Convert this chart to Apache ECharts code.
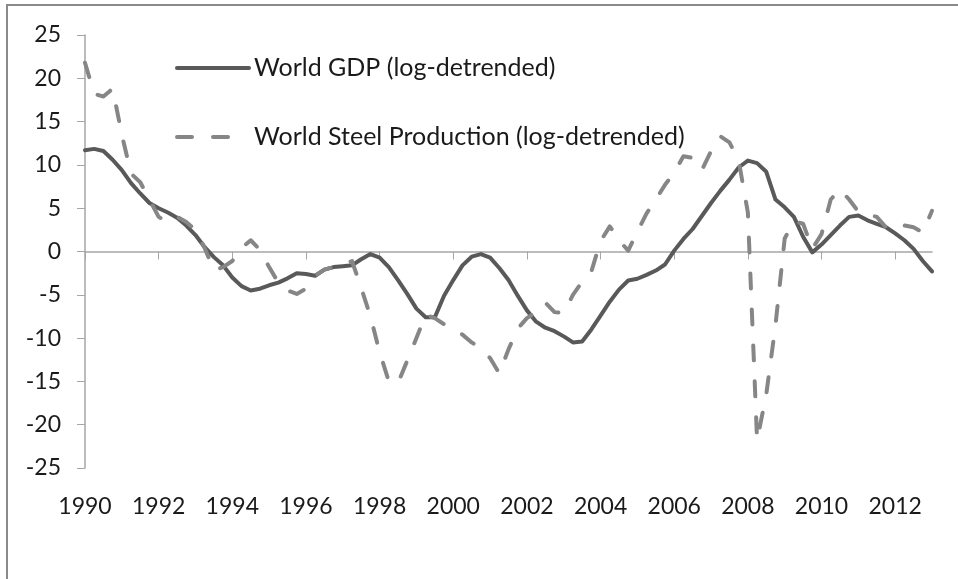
<!DOCTYPE html>
<html>
<head>
<meta charset="utf-8">
<script src="https://cdn.jsdelivr.net/npm/echarts@6/dist/echarts.min.js"></script>
<style>
html,body{margin:0;padding:0;background:#fff;}
#chart{width:958px;height:579px;}
</style>
</head>
<body>
<div id="chart"></div>
<script>
// Years shown on the axis (quarterly data, 1990Q1 .. 2013Q1)
var years = ['1990','1991','1992','1993','1994','1995','1996','1997','1998','1999','2000','2001','2002','2003','2004','2005','2006','2007','2008','2009','2010','2011','2012','2013'];
var quarters = ['Q1','Q2','Q3','Q4'];

// World GDP (log-detrended), quarterly
var gdp = [
 11.7, 11.85, 11.6, 10.6, 9.4, 7.9, 6.7, 5.6,
 5.0, 4.5, 3.9, 3.0, 1.9, 0.5, -0.65, -1.6,
 -3.0, -4.0, -4.5, -4.3, -3.9, -3.6, -3.1, -2.5,
 -2.6, -2.8, -2.1, -1.8, -1.7, -1.6, -0.9, -0.3,
 -0.7, -1.8, -3.3, -4.9, -6.6, -7.6, -7.6, -5.1,
 -3.3, -1.6, -0.6, -0.3, -0.7, -1.9, -3.3, -5.1,
 -6.8, -8.1, -8.8, -9.2, -9.8, -10.5, -10.4, -9.0,
 -7.4, -5.8, -4.4, -3.35, -3.15, -2.7, -2.2, -1.5,
 0.1, 1.45, 2.6, 4.1, 5.6, 7.0, 8.3, 9.7,
 10.5, 10.2, 9.2, 6.0, 5.1, 4.0, 1.7, -0.1,
 0.8, 1.9, 3.0, 4.0, 4.15, 3.6, 3.2, 2.8,
 2.1, 1.3, 0.3, -1.1, -2.3
];

// World Steel Production (log-detrended), quarterly
var steel = [
 21.8, 18.2, 17.9, 18.8, 13.5, 9.0, 8.0, 6.0,
 4.0, 3.4, 4.0, 3.4, 2.5, 0.4, -2.2, -1.8,
 -1.1, 0.4, 1.3, 0.2, -1.8, -3.6, -4.5, -4.9,
 -4.3, -2.8, -2.1, -1.8, -1.5, -1.1, -4.2, -7.5,
 -11.6, -15.0, -15.2, -12.6, -10.0, -7.3, -7.7, -8.4,
 -9.0, -9.6, -10.5, -11.2, -12.3, -14.1, -11.3, -8.9,
 -7.7, -7.0, -5.9, -7.0, -7.1, -5.0, -3.5, -2.3,
 1.2, 2.9, 1.3, 0.1, 2.3, 4.4, 6.0, 7.7,
 9.1, 11.0, 10.8, 9.4, 11.6, 13.3, 12.6, 10.5,
 4.5, -21.8, -16.5, -8.5, 1.5, 3.5, 3.2, 0.3,
 2.0, 6.0, 7.2, 6.0, 4.6, 4.3, 4.0, 2.8,
 2.5, 3.0, 2.8, 2.2, 4.7
];

var seriesNames = ['World GDP (log-detrended)', 'World Steel Production (log-detrended)'];

var categories = [];
for (var y = 0; y < years.length; y++) {
  for (var q = 0; q < 4; q++) {
    if (categories.length < gdp.length) categories.push(years[y] + quarters[q]);
  }
}

var axisGray = '#a6a6a6';
var textColor = '#1a1a1a';
var font = 'Lato';

var chart = echarts.init(document.getElementById('chart'), null, {renderer: 'canvas'});
chart.setOption({
  animation: false,
  backgroundColor: '#ffffff',
  graphic: [{
    type: 'rect',
    shape: {x: 7, y: 5, width: 1200, height: 1200},
    style: {fill: 'none', stroke: '#8a8a8a', lineWidth: 2},
    silent: true,
    z: -10
  }],
  grid: {left: 85, right: 26, top: 35, bottom: 111, containLabel: false},
  legend: {
    orient: 'vertical',
    left: 175,
    top: 53,
    padding: 0,
    itemWidth: 72,
    itemHeight: 14,
    itemGap: 39,
    lineStyle: {width: 4},
    itemStyle: {opacity: 0},
    textStyle: {fontFamily: font, fontSize: 25, color: textColor, lineHeight: 30},
    data: seriesNames
  },
  xAxis: [{
    type: 'category',
    data: categories,
    boundaryGap: false,
    axisLine: {show: true, onZero: true, lineStyle: {color: axisGray, width: 1.5}},
    axisTick: {show: true, interval: 7, length: 8, inside: false, lineStyle: {color: axisGray, width: 1}},
    axisLabel: {show: false},
    splitLine: {show: false}
  }, {
    type: 'category',
    data: categories,
    boundaryGap: false,
    position: 'bottom',
    axisLine: {show: false, onZero: false},
    axisTick: {show: false},
    splitLine: {show: false},
    axisLabel: {
      show: true,
      interval: 7,
      margin: 27,
      fontFamily: font,
      fontSize: 23,
      color: textColor,
      formatter: function (v) { return v.slice(0, 4); }
    }
  }],
  yAxis: {
    type: 'value',
    min: -25,
    max: 25,
    interval: 5,
    axisLine: {show: true, lineStyle: {color: axisGray, width: 1.5}},
    axisTick: {show: true, length: 8, inside: false, lineStyle: {color: axisGray, width: 1}},
    axisLabel: {margin: 24, fontFamily: font, fontSize: 23, color: textColor},
    splitLine: {show: false}
  },
  series: [{
    name: seriesNames[0],
    type: 'line',
    data: gdp,
    xAxisIndex: 0,
    symbol: 'none',
    lineStyle: {color: '#595959', width: 4, cap: 'round', join: 'round'},
    itemStyle: {color: '#595959'},
    z: 2
  }, {
    name: seriesNames[1],
    type: 'line',
    data: steel,
    xAxisIndex: 0,
    symbol: 'none',
    lineStyle: {color: '#868686', width: 4, type: [15, 21], cap: 'round', join: 'round'},
    itemStyle: {color: '#868686'},
    z: 3
  }]
});
</script>
</body>
</html>
